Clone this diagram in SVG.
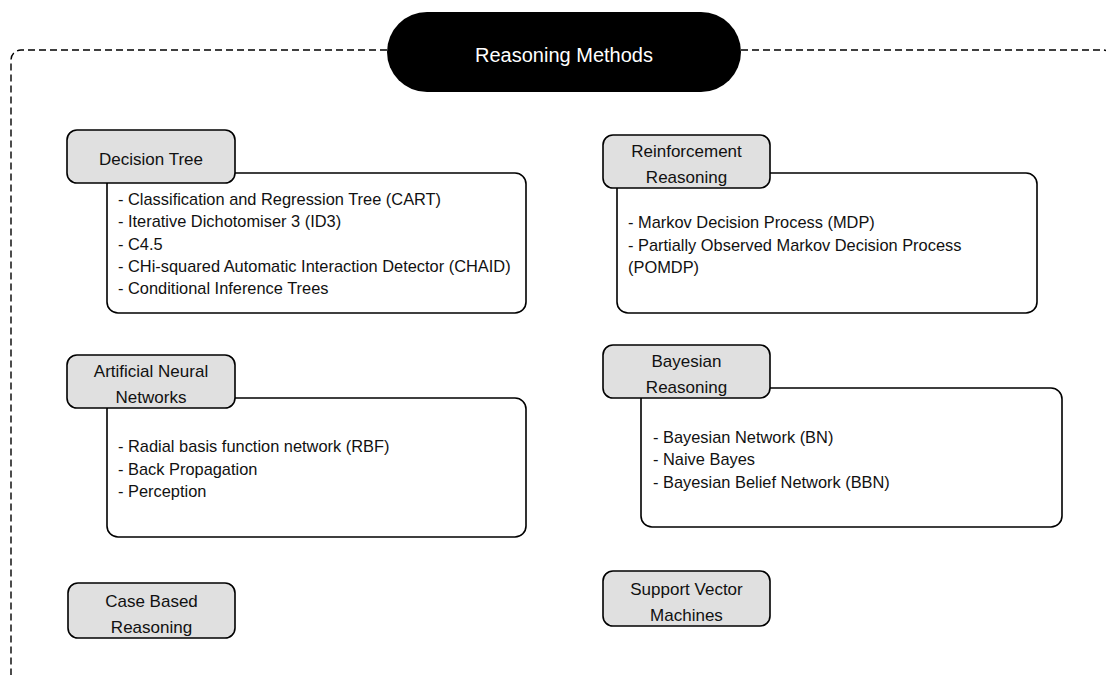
<svg xmlns="http://www.w3.org/2000/svg" width="1106" height="675" viewBox="0 0 1106 675">
<style>
.frame{fill:none;stroke:#000;stroke-width:1.4;stroke-dasharray:7 4}
.pill{fill:#000}
.title{font-family:"Liberation Sans",Arial,sans-serif;font-size:20px;fill:#fff;text-anchor:middle}
.body{fill:#fff;stroke:#000;stroke-width:1.6}
.head{fill:#e0e0e0;stroke:#000;stroke-width:1.6}
.ht{font-family:"Liberation Sans",Arial,sans-serif;font-size:17px;fill:#111;text-anchor:middle}
.bt{font-family:"Liberation Sans",Arial,sans-serif;font-size:16.4px;fill:#111}
</style>
<rect width="1106" height="675" fill="#fff"/>
<g id="connectors">
<path class="frame" d="M387,50 H21 A10,10 0 0 0 11,60 V680"/>
<path class="frame" d="M741,50 H1103 A10,10 0 0 1 1113,60 V680"/>
</g>
<g id="title">
<rect class="pill" x="387" y="12" width="354" height="80" rx="40"/>
<text class="title" x="564" y="62">Reasoning Methods</text>
</g>
<g id="decision-tree">
<rect class="body" x="107" y="173" width="419" height="140" rx="11"/>
<rect class="head" x="67" y="130" width="168" height="53" rx="10"/>
<text class="ht" x="151" y="165">Decision Tree</text>
<text class="bt" x="118" y="205">- Classification and Regression Tree (CART)</text>
<text class="bt" x="118" y="227">- Iterative Dichotomiser 3 (ID3)</text>
<text class="bt" x="118" y="249.5">- C4.5</text>
<text class="bt" x="118" y="272">- CHi-squared Automatic Interaction Detector (CHAID)</text>
<text class="bt" x="118" y="294">- Conditional Inference Trees</text>
</g>
<g id="reinforcement-reasoning">
<rect class="body" x="617" y="173" width="420" height="140" rx="11"/>
<rect class="head" x="603" y="135" width="167" height="53" rx="10"/>
<text class="ht" x="686.5" y="157">Reinforcement</text>
<text class="ht" x="686.5" y="183">Reasoning</text>
<text class="bt" x="628" y="228">- Markov Decision Process (MDP)</text>
<text class="bt" x="628" y="251">- Partially Observed Markov Decision Process</text>
<text class="bt" x="628" y="273">(POMDP)</text>
</g>
<g id="artificial-neural-networks">
<rect class="body" x="107" y="398" width="419" height="139" rx="11"/>
<rect class="head" x="67" y="355" width="168" height="53" rx="10"/>
<text class="ht" x="151" y="377">Artificial Neural</text>
<text class="ht" x="151" y="403">Networks</text>
<text class="bt" x="118" y="452">- Radial basis function network (RBF)</text>
<text class="bt" x="118" y="475">- Back Propagation</text>
<text class="bt" x="118" y="497">- Perception</text>
</g>
<g id="bayesian-reasoning">
<rect class="body" x="641" y="388" width="421" height="139" rx="11"/>
<rect class="head" x="603" y="345" width="167" height="53" rx="10"/>
<text class="ht" x="686.5" y="367">Bayesian</text>
<text class="ht" x="686.5" y="393">Reasoning</text>
<text class="bt" x="653" y="443">- Bayesian Network (BN)</text>
<text class="bt" x="653" y="465">- Naive Bayes</text>
<text class="bt" x="653" y="488">- Bayesian Belief Network (BBN)</text>
</g>
<g id="case-based-reasoning">
<rect class="head" x="68" y="583" width="167" height="55" rx="10"/>
<text class="ht" x="151.5" y="607">Case Based</text>
<text class="ht" x="151.5" y="633">Reasoning</text>
</g>
<g id="support-vector-machines">
<rect class="head" x="603" y="571" width="167" height="55" rx="10"/>
<text class="ht" x="686.5" y="595">Support Vector</text>
<text class="ht" x="686.5" y="621">Machines</text>
</g>
</svg>
